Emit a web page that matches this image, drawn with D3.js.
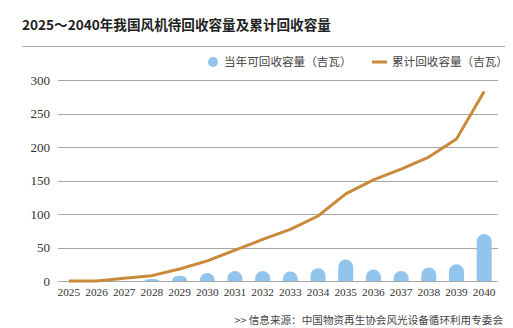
<!DOCTYPE html>
<html>
<head>
<meta charset="utf-8">
<script src="https://cdn.jsdelivr.net/npm/d3@7"></script>
<style>
  body { margin: 0; background: #fff; }
  .tick text { font-family: "Liberation Serif", "DejaVu Serif", serif; fill: #333; }
</style>
</head>
<body>
<script>
var years = ["2025","2026","2027","2028","2029","2030","2031","2032","2033","2034","2035","2036","2037","2038","2039","2040"];
var annual = [0, 0, 0, 3, 8, 12, 15, 15, 14, 19, 32, 17, 15, 20, 25, 70];
var cumulative = [0, 0, 4, 8, 18, 30, 46, 62, 77, 97, 130, 151, 167, 185, 212, 283];
var yTicks = [0, 50, 100, 150, 200, 250, 300];
var cjk = '"Noto Sans CJK SC", sans-serif';

var svg = d3.select("body").append("svg")
  .attr("width", 513)
  .attr("height", 328);

// title + rule
svg.append("text")
  .attr("x", 22).attr("y", 30)
  .attr("font-family", cjk)
  .attr("font-weight", "bold")
  .attr("font-size", 13.6)
  .attr("fill", "#222")
  .text("2025～2040年我国风机待回收容量及累计回收容量");
svg.append("line")
  .attr("x1", 22).attr("x2", 505)
  .attr("y1", 46.5).attr("y2", 46.5)
  .attr("stroke", "#aaa").attr("stroke-width", 1);

var x = d3.scaleBand().domain(years).range([55, 498]);
var y = d3.scaleLinear().domain([0, 300]).range([281, 80]);

// grid
svg.append("g").selectAll("line").data(yTicks).enter().append("line")
  .attr("x1", 58).attr("x2", 498)
  .attr("y1", function(d) { return Math.round(y(d)) + 0.5; })
  .attr("y2", function(d) { return Math.round(y(d)) + 0.5; })
  .attr("stroke", "#a6a6a6").attr("stroke-width", 1);

var yAxis = svg.append("g")
  .attr("transform", "translate(50,0)")
  .call(d3.axisLeft(y).tickValues(yTicks).tickSize(0).tickPadding(0));
yAxis.select(".domain").remove();
yAxis.selectAll("text").attr("font-size", 13);

var xAxis = svg.append("g")
  .attr("transform", "translate(0,287)")
  .call(d3.axisBottom(x).tickSize(0).tickPadding(1));
xAxis.select(".domain").remove();
xAxis.selectAll("text").attr("font-size", 11.3);

// bars with rounded tops
var bw = 15;
svg.append("g").selectAll("path").data(annual).enter().append("path")
  .attr("fill", "#93c4ec")
  .attr("d", function(d, i) {
    if (d <= 0) return "";
    var cx = x(years[i]) + x.bandwidth() / 2;
    var top = y(d), base = y(0);
    var h = base - top;
    var r = Math.min(bw / 2, h);
    var p = d3.path();
    p.moveTo(cx - bw / 2, base);
    p.lineTo(cx - bw / 2, top + r);
    if (h >= bw / 2) {
      p.arc(cx, top + r, bw / 2, Math.PI, 2 * Math.PI);
    } else {
      p.quadraticCurveTo(cx - bw / 2, top, cx, top);
      p.quadraticCurveTo(cx + bw / 2, top, cx + bw / 2, top + r);
    }
    p.lineTo(cx + bw / 2, base);
    p.closePath();
    return p.toString();
  });

// cumulative line
var line = d3.line()
  .x(function(d, i) { return x(years[i]) + x.bandwidth() / 2; })
  .y(function(d) { return y(d); });
svg.append("path")
  .datum(cumulative)
  .attr("fill", "none")
  .attr("stroke", "#c98a3c")
  .attr("stroke-width", 3)
  .attr("stroke-linejoin", "round")
  .attr("d", line);

// legend
svg.append("circle").attr("cx", 213).attr("cy", 62).attr("r", 5).attr("fill", "#93c4ec");
svg.append("text").attr("x", 224).attr("y", 66.2)
  .attr("font-family", cjk).attr("font-size", 11.6).attr("fill", "#444")
  .text("当年可回收容量（吉瓦）");
svg.append("line").attr("x1", 372).attr("x2", 387).attr("y1", 62).attr("y2", 62)
  .attr("stroke", "#c98a3c").attr("stroke-width", 3);
svg.append("text").attr("x", 392).attr("y", 66.2)
  .attr("font-family", cjk).attr("font-size", 11.6).attr("fill", "#444")
  .text("累计回收容量（吉瓦）");

// source
svg.append("text").attr("x", 503).attr("y", 324)
  .attr("text-anchor", "end")
  .attr("font-family", cjk).attr("font-size", 10.6).attr("fill", "#444")
  .text(">> 信息来源：中国物资再生协会风光设备循环利用专委会");
</script>
</body>
</html>
